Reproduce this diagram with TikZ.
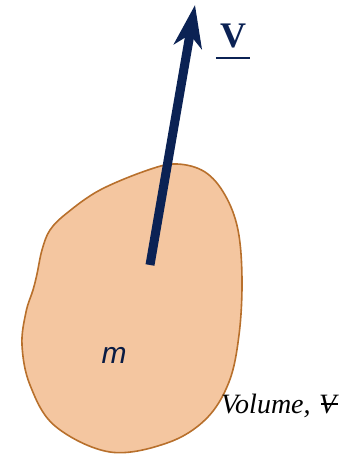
\documentclass[tikz,border=0pt]{standalone}
\usepackage{fontspec}
\setmainfont{Liberation Serif}
\setsansfont{Liberation Sans}
\usetikzlibrary{arrows.meta}
\definecolor{navy}{HTML}{0B2254}
\definecolor{peach}{HTML}{F4C6A0}
\definecolor{rim}{HTML}{B8702C}
\newcommand\volsym{\rlap{\textit{V}}\hspace{0.08em}\raisebox{0.3em}{\rule{0.6em}{0.05em}}}
\tikzset{
  blob/.style={fill=peach, draw=rim, line width=1.6pt},
  vel/.style={draw=navy, line width=9pt, -{Stealth[length=42pt,width=28pt,inset=12pt]}},
  lbl/.style={inner sep=0pt, text=black}
}
\begin{document}
\begin{tikzpicture}[x=1pt,y=-1pt]
\useasboundingbox (0,0) rectangle (357,454);
% body
\draw[blob] plot[smooth cycle, tension=0.6] coordinates {
  (177,164) (205,172) (225,195) (238,230) (242,280) (239,335) (229,382)
  (206,419) (167,443) (110,452) (55,426) (30,385) (22,345) (26,312)
  (33,290) (37,274) (42,250) (50,230) (67,213) (100,190) (148,170)};
% velocity vector
\coordinate (tail) at (150,265);
\coordinate (tip) at (195,5);
\draw[vel] (tail) -- (tip);
% labels
\node[lbl, text=navy, anchor=base, font=\fontsize{36}{40}\selectfont\bfseries] (v) at (233,48) {V};
\draw[navy, line width=1.6pt] ([xshift=-4pt,yshift=-10pt]v.base west) -- ([xshift=4pt,yshift=-10pt]v.base east);
\node[lbl, anchor=base, font=\fontsize{30}{34}\selectfont\sffamily\itshape, text=navy!80!black] (m) at (114,363) {m};
\node[lbl, anchor=base west, font=\fontsize{28}{32}\selectfont\itshape] (vol) at (221,413) {Volume,\hspace{0.3em}\volsym};
\end{tikzpicture}
\end{document}
